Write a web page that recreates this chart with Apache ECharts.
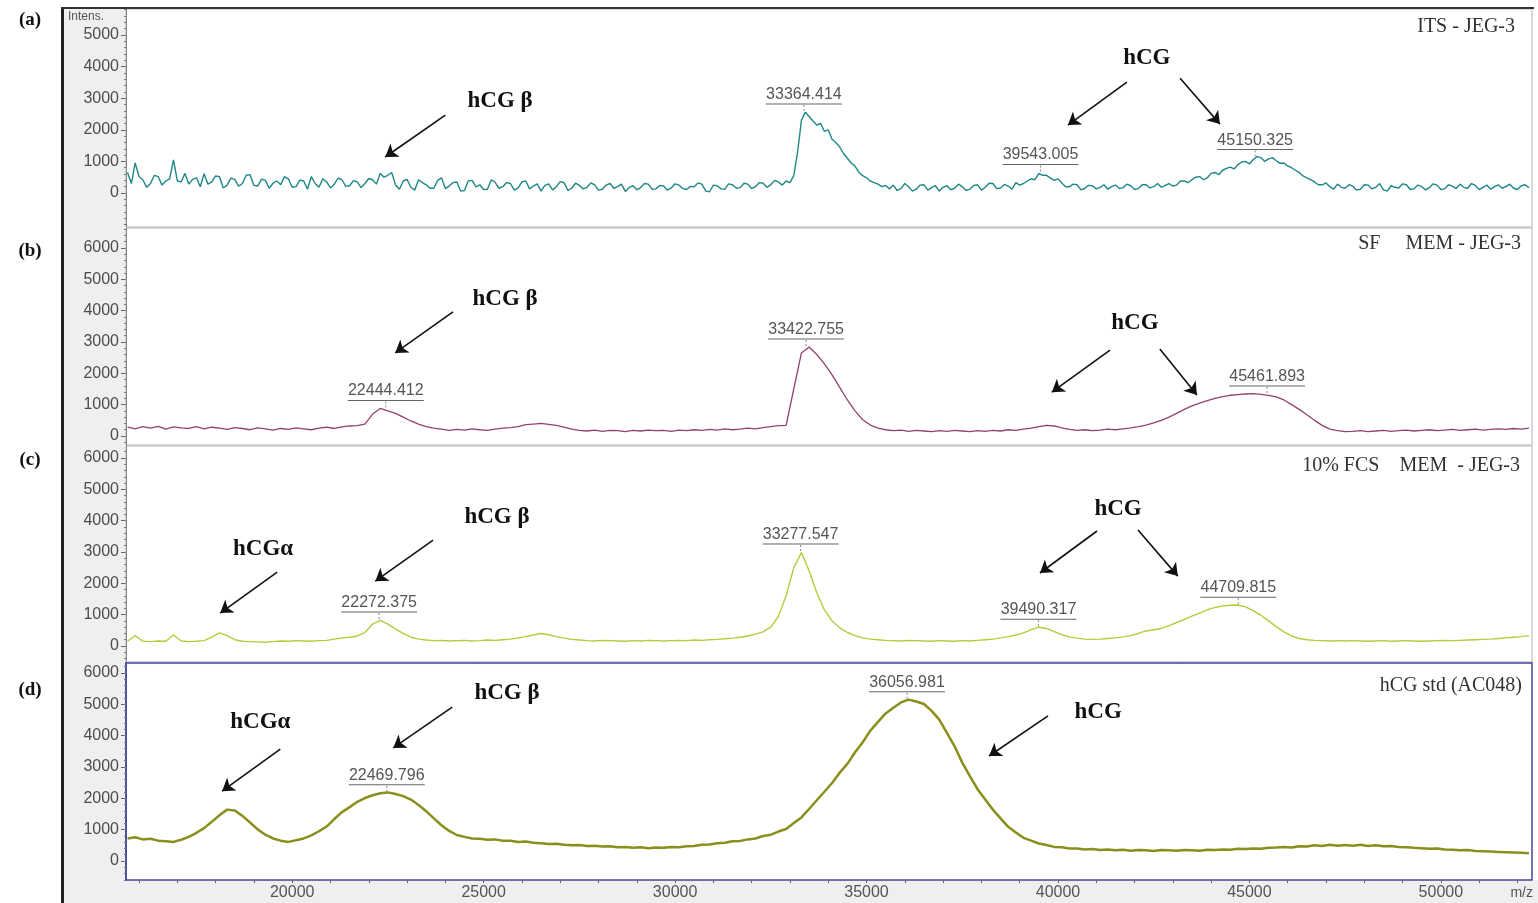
<!DOCTYPE html>
<html lang="en">
<head>
<meta charset="UTF-8">
<title>hCG MALDI spectra</title>
<script src="https://cdn.jsdelivr.net/npm/echarts@6/dist/echarts.min.js"></script>
<style>
    html, body { margin: 0; padding: 0; background: #fff; }
    #chart { width: 1538px; height: 903px; }
</style>
</head>
<body>
<div id="chart"></div>
<script>
// m/z sampling: all spectra start at 15700, (a) is read every 100, the others every 200
var mzStart = 15700, mzStepA = 100, mzStep = 200;

// (a) ITS - JEG-3
var intensA = [
    650, 300, 950, 520, 420, 180, 300, 560, 520, 250, 380, 450, 1050, 380, 350, 620, 280, 430, 480, 200,
    610, 280, 350, 540, 520, 160, 250, 470, 430, 220, 300, 560, 580, 240, 220, 440, 400, 150, 310, 380,
    260, 520, 450, 180, 200, 410, 380, 120, 520, 300, 180, 450, 350, 160, 280, 470, 420, 210, 230, 390,
    350, 170, 300, 460, 420, 280, 620, 500, 560, 650, 250, 120, 380, 430, 180, 90, 420, 330, 260, 150,
    150, 400, 480, 140, 220, 330, 350, 60, 80, 380, 400, 190, 260, 110, 120, 420, 340, 150, 200, 330,
    300, 90, 160, 350, 380, 130, 220, 290, 60, 240, 290, 100, 200, 360, 330, 80, 150, 310, 240, 130,
    180, 320, 260, 90, 120, 250, 300, 150, 200, 280, 50, 170, 230, 100, 170, 300, 280, 120, 130, 240,
    220, 90, 160, 290, 250, 140, 110, 210, 200, 320, 280, 60, 40, 250, 230, 130, 120, 290, 260, 150,
    170, 310, 280, 140, 200, 330, 310, 180, 260, 400, 350, 250, 380, 330, 550, 1300, 2300, 2560, 2420, 2280,
    2150, 2200, 1950, 2000, 1700, 1600, 1450, 1250, 1100, 950, 850, 650, 550, 480, 380, 330, 280, 200, 240, 130,
    250, 80, 140, 300, 200, 60, 120, 250, 260, 90, 170, 230, 60, 180, 230, 100, 150, 280, 200, 80,
    120, 240, 260, 90, 180, 310, 300, 140, 160, 270, 220, 120, 330, 250, 300, 380, 450, 420, 620, 560,
    560, 480, 400, 450, 320, 200, 200, 280, 260, 100, 150, 240, 230, 130, 180, 260, 120, 200, 250, 140,
    170, 280, 230, 110, 140, 260, 260, 160, 200, 300, 180, 240, 300, 220, 250, 380, 380, 330, 420, 500,
    520, 420, 480, 620, 650, 580, 720, 780, 820, 760, 900, 980, 1000, 920, 1060, 1150, 1120, 1000, 1080, 1120,
    1020, 940, 950, 860, 800, 720, 650, 540, 480, 420, 350, 260, 260, 320, 200, 120, 280, 180, 150, 260,
    220, 90, 120, 260, 250, 130, 180, 300, 100, 60, 230, 180, 160, 290, 260, 110, 140, 250, 200, 100,
    170, 290, 250, 110, 130, 260, 220, 140, 280, 180, 150, 300, 240, 110, 180, 250, 120, 200, 260, 150,
    200, 280, 150, 110, 230, 260, 170
];
// (b) SF MEM - JEG-3
var intensB = [
    280, 230, 300, 250, 310, 220, 290, 260, 240, 300,
    230, 280, 250, 210, 270, 240, 200, 260, 230, 190,
    240, 210, 260, 230, 200, 250, 280, 240, 290, 320,
    330, 380, 700, 880, 800, 720, 600, 480, 380, 300,
    250, 220, 180, 210, 190, 230, 200, 180, 220, 250,
    270, 300, 360, 380, 400, 370, 340, 280, 220, 180,
    160, 190, 150, 180, 170, 140, 180, 160, 190, 170,
    180, 150, 190, 170, 200, 180, 210, 190, 230, 200,
    220, 250, 230, 270, 300, 330, 340, 1500, 2650, 2840,
    2600, 2300, 1950, 1550, 1150, 800, 520, 350, 250, 200,
    170, 190, 150, 180, 160, 140, 170, 150, 180, 160,
    140, 170, 150, 180, 160, 200, 180, 220, 250, 300,
    340, 320, 260, 210, 180, 200, 170, 190, 220, 200,
    230, 260, 300, 350, 420, 500, 600, 720, 850, 960,
    1050, 1130, 1200, 1260, 1300, 1320, 1340, 1350, 1330, 1300,
    1250, 1150, 1000, 850, 680, 500, 340, 220, 170, 140,
    150, 170, 140, 160, 180, 150, 170, 190, 160, 180,
    200, 170, 190, 210, 180, 200, 220, 190, 210, 230,
    210, 240, 220, 250
];
// (c) 10% FCS MEM - JEG-3
var intensC = [
    150, 330, 150, 140, 160, 150, 350, 160, 140, 150,
    170, 280, 420, 330, 200, 150, 140, 130, 120, 140,
    160, 150, 170, 160, 150, 170, 180, 220, 260, 280,
    320, 430, 700, 820, 700, 540, 400, 280, 220, 190,
    170, 180, 160, 170, 180, 160, 170, 190, 180, 200,
    220, 260, 300, 350, 400, 360, 300, 250, 210, 190,
    170, 160, 180, 170, 160, 150, 170, 160, 180, 170,
    160, 170, 180, 170, 190, 180, 200, 210, 230, 250,
    280, 320, 380, 450, 600, 950, 1600, 2500, 2980, 2400,
    1700, 1150, 800, 580, 430, 330, 260, 220, 200, 180,
    170, 160, 180, 170, 160, 150, 170, 160, 150, 170,
    160, 180, 200, 220, 260, 300, 350, 420, 520, 600,
    560, 460, 360, 290, 250, 220, 210, 220, 240, 260,
    290, 330, 400, 480, 520, 560, 650, 750, 850, 950,
    1050, 1150, 1230, 1280, 1300, 1310, 1250, 1130, 980, 800,
    620, 450, 320, 240, 200, 180, 170, 160, 170, 160,
    170, 160, 150, 160, 170, 150, 160, 170, 160, 150,
    160, 170, 180, 170, 180, 190, 200, 210, 220, 240,
    260, 280, 300, 330
];
// (d) hCG std (AC048)
var intensD = [
    720, 760, 690, 710, 650, 630, 610, 680, 770, 900,
    1050, 1250, 1460, 1640, 1610, 1440, 1230, 1010, 840, 720,
    650, 610, 660, 720, 820, 950, 1100, 1340, 1560, 1720,
    1890, 2010, 2100, 2160, 2190, 2140, 2070, 1960, 1790, 1590,
    1360, 1140, 960, 830, 770, 720, 710, 680, 690, 650,
    650, 610, 620, 580, 570, 540, 550, 520, 500, 510,
    480, 490, 460, 470, 440, 450, 420, 440, 410, 430,
    420, 450, 440, 470, 480, 520, 530, 570, 580, 630,
    640, 690, 720, 800, 840, 940, 1020, 1210, 1390, 1660,
    1940, 2210, 2490, 2820, 3100, 3470, 3790, 4160, 4440, 4710,
    4890, 5060, 5150, 5090, 5010, 4790, 4510, 4090, 3660, 3140,
    2710, 2290, 1960, 1640, 1360, 1090, 910, 740, 650, 560,
    510, 450, 440, 400, 400, 370, 380, 350, 370, 340,
    360, 330, 350, 340, 320, 350, 340, 330, 350, 340,
    330, 360, 350, 370, 360, 390, 380, 400, 390, 420,
    430, 450, 430, 470, 460, 500, 480, 520, 490, 510,
    490, 520, 480, 500, 470, 480, 450, 440, 420, 410,
    390, 400, 370, 360, 340, 350, 320, 310, 300, 290,
    280, 270, 260, 250
];

// labelled peaks [m/z, intensity]
var peaksA = [[33364.414, 2560], [39543.005, 650], [45150.325, 1120]];
var peaksB = [[22444.412, 880], [33422.755, 2840], [45461.893, 1340]];
var peaksC = [[22272.375, 830], [33277.547, 3000], [39490.317, 600], [44709.815, 1300]];
var peaksD = [[22469.796, 2180], [36056.981, 5150]];

var xTickLabels = [20000, 25000, 30000, 35000, 40000, 45000, 50000];
var yTickLabelsA = [0, 1000, 2000, 3000, 4000, 5000];
var yTickLabels = [0, 1000, 2000, 3000, 4000, 5000, 6000];

// annotation text [text, m/z, intensity] and arrows [from m/z, from int, to m/z, to int]
var notes = [
    [['hCG β', 25430, 2910], ['hCG', 42320, 4270]],
    [['hCG β', 25560, 4370], ['hCG', 42010, 3610]],
    [['hCGα', 19240, 3100], ['hCG β', 25350, 4120], ['hCG', 41570, 4370]],
    [['hCGα', 19170, 4440], ['hCG β', 25610, 5360], ['hCG', 41050, 4760]]
];
var arrows = [
    [[24000, 2465, 22430, 1140], [41800, 3510, 40260, 2150], [43190, 3630, 44230, 2180]],
    [[24200, 3960, 22690, 2650], [41360, 2740, 39840, 1400], [42660, 2780, 43630, 1310]],
    [[19610, 2360, 18120, 1050], [23680, 3380, 22170, 2070], [41020, 3670, 39530, 2330], [42090, 3700, 43130, 2230]],
    [[19690, 3570, 18170, 2230], [24180, 4910, 22640, 3610], [39740, 4630, 38200, 3350]]
];

function pairs(vals, step) {
    return vals.map(function (v, i) { return [mzStart + i * step, v]; });
}

var SANS = '"Liberation Sans", Arial, sans-serif';
var SERIF = '"Liberation Serif", "Times New Roman", serif';

var panels = [
    { data: intensA, step: mzStepA, color: '#1f8787', width: 1.4, peaks: peaksA, top: 9, height: 218, min: -1076, max: 5823, labels: yTickLabelsA, border: '#b5b5b5' },
    { data: intensB, step: mzStep, color: '#94416f', width: 1.3, peaks: peaksB, top: 228, height: 217, min: -287, max: 6638, labels: yTickLabels, border: '#b5b5b5' },
    { data: intensC, step: mzStep, color: '#b4cc3c', width: 1.4, peaks: peaksC, top: 446, height: 216, min: -511, max: 6383, labels: yTickLabels, border: '#b5b5b5' },
    { data: intensD, step: mzStep, color: '#8a8f1c', width: 2.5, peaks: peaksD, top: 663, height: 217, min: -606, max: 6319, labels: yTickLabels, border: '#46469a' }
];

var xMin = 15660, xMax = 52380;
var xMinor = [];
for (var t = 16000; t <= 52000; t += 1000) xMinor.push(t);

function plain(v) { return String(v); }

var grids = [], xAxes = [], yAxes = [], series = [];
panels.forEach(function (p, k) {
    var last = k === panels.length - 1;
    grids.push({
        left: 126, width: 1406, top: p.top, height: p.height,
        show: true, borderColor: p.border, borderWidth: last ? 1.5 : 1, backgroundColor: '#fff'
    });
    xAxes.push({
        type: 'value', gridIndex: k, min: xMin, max: xMax,
        show: last, position: 'bottom',
        splitLine: { show: false },
        axisLine: { show: false, onZero: false },
        axisTick: { show: true, length: 3, customValues: xMinor, lineStyle: { color: '#666' } },
        axisLabel: { customValues: xTickLabels, formatter: plain, fontFamily: SANS, fontSize: 16, color: '#555', margin: 5 }
    });
    var minor = [];
    for (var v = Math.ceil(p.min / 200) * 200; v <= p.max; v += 200) minor.push(v);
    yAxes.push({
        type: 'value', gridIndex: k, min: p.min, max: p.max, position: 'left',
        splitLine: { show: false },
        axisLine: { show: true, onZero: false, lineStyle: { color: last ? p.border : '#888', width: last ? 1.5 : 1 } },
        axisTick: { show: true, length: 5, customValues: p.labels, lineStyle: { color: '#666' } },
        axisLabel: { customValues: p.labels, formatter: plain, fontFamily: SANS, fontSize: 16, color: '#4d4d4d', margin: 7 }
    });
    yAxes.push({
        type: 'value', gridIndex: k, min: p.min, max: p.max, position: 'left', offset: 0,
        splitLine: { show: false },
        axisLine: { show: false, onZero: false },
        axisTick: { show: true, length: 2, customValues: minor, lineStyle: { color: '#777' } },
        axisLabel: { show: false }
    });

    var marks = [];
    notes[k].forEach(function (n) {
        marks.push({
            coord: [n[1], n[2]], symbol: 'circle', symbolSize: 1,
            itemStyle: { color: 'rgba(0,0,0,0)' },
            label: { show: true, position: 'inside', formatter: n[0], fontFamily: SERIF, fontWeight: 'bold', fontSize: 23, color: '#111' }
        });
    });
    p.peaks.forEach(function (pk) {
        marks.push({
            coord: pk, symbol: 'rect', symbolSize: [76, 1], symbolOffset: [0, -8],
            itemStyle: { color: '#666' },
            label: { show: true, position: 'top', distance: 1, formatter: pk[0].toFixed(3), fontFamily: SANS, fontSize: 16, color: '#555' }
        });
        marks.push({
            coord: pk, symbol: 'path://M0,0h1v2h-1zM0,4h1v2h-1z', symbolSize: [1, 6], symbolOffset: [0, -4],
            itemStyle: { color: '#888' }, label: { show: false }
        });
    });

    series.push({
        type: 'line', xAxisIndex: k, yAxisIndex: k * 2,
        data: pairs(p.data, p.step),
        showSymbol: false, symbol: 'none',
        lineStyle: { color: p.color, width: p.width },
        emphasis: { disabled: true },
        markPoint: { silent: true, animation: false, data: marks },
        markLine: {
            silent: true, animation: false,
            symbol: ['none', 'arrow'], symbolSize: 12,
            lineStyle: { color: '#111', width: 1.6, type: 'solid' },
            label: { show: false },
            emphasis: { disabled: true },
            data: arrows[k].map(function (a) { return [{ coord: [a[0], a[1]] }, { coord: [a[2], a[3]] }]; })
        }
    });
});

var chart = echarts.init(document.getElementById('chart'));
chart.setOption({
    animation: false,
    backgroundColor: '#fff',
    grid: grids,
    xAxis: xAxes,
    yAxis: yAxes,
    series: series,
    graphic: [
        { type: 'rect', z: -10, shape: { x: 63, y: 8, width: 63, height: 895 }, style: { fill: '#efefef' } },
        { type: 'rect', z: -10, shape: { x: 63, y: 880, width: 1475, height: 23 }, style: { fill: '#efefef' } },
        { type: 'rect', z: 50, shape: { x: 61, y: 8, width: 3, height: 895 }, style: { fill: '#222' } },
        { type: 'rect', z: 50, shape: { x: 61, y: 7, width: 1473, height: 2 }, style: { fill: '#333' } },
        { type: 'text', z: 50, x: 30, y: 20, style: { text: '(a)', font: 'bold 19px ' + SERIF, fill: '#111', align: 'center', verticalAlign: 'middle' } },
        { type: 'text', z: 50, x: 30, y: 251, style: { text: '(b)', font: 'bold 19px ' + SERIF, fill: '#111', align: 'center', verticalAlign: 'middle' } },
        { type: 'text', z: 50, x: 30, y: 460, style: { text: '(c)', font: 'bold 19px ' + SERIF, fill: '#111', align: 'center', verticalAlign: 'middle' } },
        { type: 'text', z: 50, x: 30, y: 690, style: { text: '(d)', font: 'bold 19px ' + SERIF, fill: '#111', align: 'center', verticalAlign: 'middle' } },
        { type: 'text', z: 50, x: 68, y: 17, style: { text: 'Intens.', font: '12px ' + SANS, fill: '#555', verticalAlign: 'middle' } },
        { type: 'text', z: 50, x: 1533, y: 893, style: { text: 'm/z', font: '14px ' + SANS, fill: '#555', align: 'right', verticalAlign: 'middle' } },
        { type: 'text', z: 50, x: 1515, y: 27, style: { text: 'ITS - JEG-3', font: '20px ' + SERIF, fill: '#333', align: 'right', verticalAlign: 'middle' } },
        { type: 'text', z: 50, x: 1521, y: 244, style: { text: 'SF     MEM - JEG-3', font: '20px ' + SERIF, fill: '#333', align: 'right', verticalAlign: 'middle' } },
        { type: 'text', z: 50, x: 1520, y: 466, style: { text: '10% FCS    MEM  - JEG-3', font: '20px ' + SERIF, fill: '#333', align: 'right', verticalAlign: 'middle' } },
        { type: 'text', z: 50, x: 1522, y: 686, style: { text: 'hCG std (AC048)', font: '20px ' + SERIF, fill: '#333', align: 'right', verticalAlign: 'middle' } }
    ]
});
</script>
</body>
</html>
